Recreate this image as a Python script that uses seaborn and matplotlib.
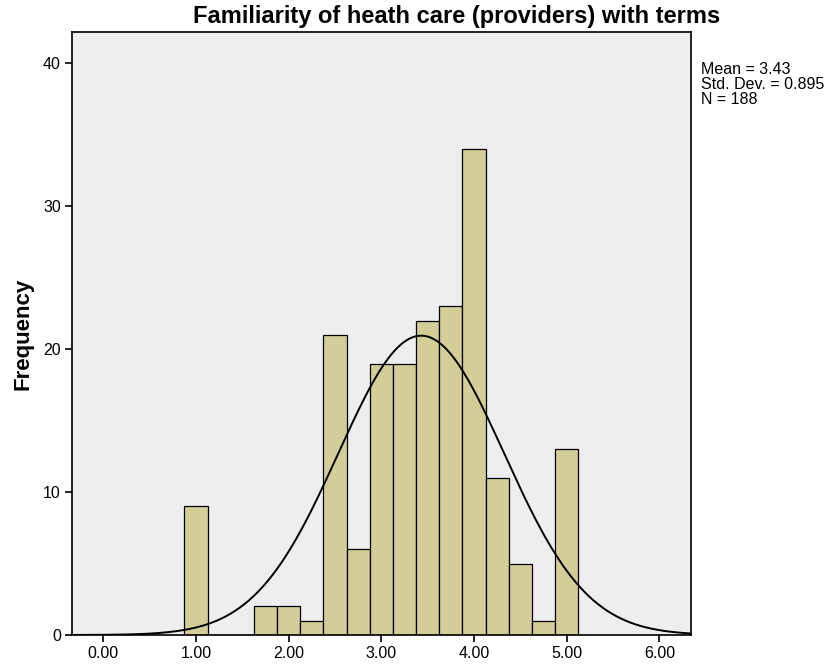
import numpy as np
import pandas as pd
import matplotlib
matplotlib.use("Agg")
import matplotlib.pyplot as plt
import seaborn as sns

# Data
bin_centers = [1.00, 1.75, 2.00, 2.25, 2.50, 2.75, 3.00, 3.25, 3.50, 3.75, 4.00, 4.25, 4.50, 4.75, 5.00]
counts = [9, 2, 2, 1, 21, 6, 19, 19, 22, 23, 34, 11, 5, 1, 13]
mean_val = 3.43
std_val = 0.895
n_val = 188
x_ticks = [0, 1, 2, 3, 4, 5, 6]
y_ticks = [0, 10, 20, 30, 40]
title = "Familiarity of heath care (providers) with terms"

sns.set_theme(style="white")
plt.rcParams['font.family'] = ['Liberation Sans', 'DejaVu Sans']
plt.rcParams['text.color'] = 'black'

fig = plt.figure(figsize=(8.27, 6.66), dpi=100)
ax = fig.add_axes([72/827, 31/666, (690.7-72)/827, (634-31)/666])
ax.set_facecolor('#EEEEEE')

df = pd.DataFrame({"value": bin_centers, "count": counts})
sns.histplot(data=df, x="value", weights="count", binwidth=0.25, binrange=(0.875, 5.125),
             color="#D3CE97", edgecolor="black", linewidth=0.9, alpha=1.0, ax=ax)

xs = np.linspace(-0.34, 6.34, 400)
pdf = n_val * 0.25 / (std_val * np.sqrt(2 * np.pi)) * np.exp(-0.5 * ((xs - mean_val) / std_val) ** 2)
sns.lineplot(x=xs, y=pdf, color="black", linewidth=1.4, ax=ax)

ax.set_xlim(-0.338, 6.338)
ax.set_ylim(0, 42.2)
ax.set_xticks(x_ticks)
ax.set_xticklabels([f"{v:.2f}" for v in x_ticks])
ax.set_yticks(y_ticks)
ax.set_yticklabels([str(v) for v in y_ticks])
ax.tick_params(axis='both', direction='out', length=5, width=1.2, color='black',
               labelsize=11.5, labelcolor='black', bottom=True, left=True, pad=3)
for s in ax.spines.values():
    s.set_color('black')
    s.set_linewidth(1.2)
ax.set_xlabel("")
ax.set_ylabel("Frequency", fontsize=16, fontweight='bold', labelpad=7, color='black')

fig.text(457/827, 1 - 17/666, title, ha='center', va='center', fontsize=17, fontweight='bold', color='black')
fig.text(701/827, 1 - 62/666, f"Mean = {mean_val}\nStd. Dev. = {std_val}\nN = {n_val}",
         ha='left', va='top', fontsize=11.5, linespacing=1.0, color='black')

fig.savefig("out.png", dpi=100)
